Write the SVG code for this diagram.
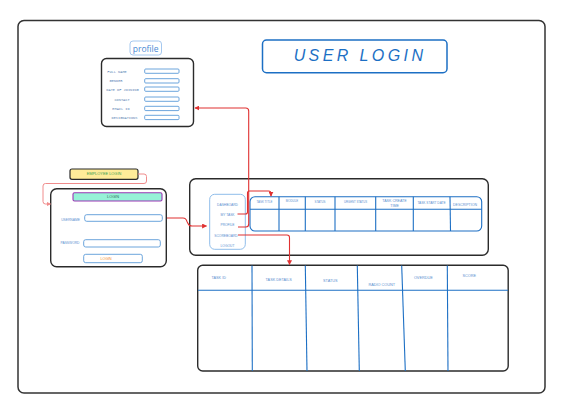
<svg xmlns="http://www.w3.org/2000/svg" width="567" height="420" viewBox="0 0 567 420">
<defs>
<style>
.dark{fill:#fff;stroke:#2b2b2b;stroke-width:1.4}
.inp{fill:#fff;stroke:#5b9bd8;stroke-width:0.9}
.tbl{fill:none;stroke:#1c6fc4;stroke-width:1.1}
.t{font-family:"Liberation Sans",Arial,sans-serif;fill:#5b8fcf;text-anchor:middle}
.lbl{font-family:"Liberation Mono","DejaVu Sans Mono",monospace;fill:#5a7fb3;text-anchor:middle;font-size:3.6px}
.red{fill:none;stroke:#e03131;stroke-width:1.1}
.pink{fill:none;stroke:#f08c8c;stroke-width:1}
</style>
<marker id="ar" viewBox="0 0 8 8" refX="7" refY="4" markerWidth="5" markerHeight="5" markerUnits="userSpaceOnUse" orient="auto">
<path d="M0,0 L8,4 L0,8 Z" fill="#e03131"/>
</marker>
<marker id="ap" viewBox="0 0 8 8" refX="7" refY="4" markerWidth="4.5" markerHeight="4.5" markerUnits="userSpaceOnUse" orient="auto">
<path d="M0,0 L8,4 L0,8 Z" fill="#f08c8c"/>
</marker>
</defs>
<rect width="567" height="420" fill="#fff"/>
<g id="frame"><rect x="18" y="20.5" width="527" height="372.5" rx="6" fill="#fff" stroke="#333" stroke-width="1.5"/></g>

<g id="profile-title">
<rect x="130" y="41" width="31.5" height="14" rx="3" fill="#fff" stroke="#a5c8ef" stroke-width="1"/>
<text x="145.7" y="51.5" font-family="Open Sans,Liberation Sans,sans-serif" font-size="8.5" fill="#4a8ad4" text-anchor="middle">profile</text>
</g>

<g id="profile">
<rect x="101.5" y="58.5" width="92" height="68" rx="5" class="dark"/>
<text class="lbl" x="117" y="72.5">FULL NAME</text>
<text class="lbl" x="116" y="81.5">GENDER</text>
<text class="lbl" x="122.5" y="91.3">DATE OF JOINING</text>
<text class="lbl" x="122" y="101.3">CONTACT</text>
<text class="lbl" x="121" y="110.2">EMAIL ID</text>
<text class="lbl" x="124.5" y="119.2">DESIGNATIONS</text>
<rect class="inp" x="144.7" y="69" width="34.3" height="4.3" rx="1"/>
<rect class="inp" x="144.7" y="78.7" width="34.3" height="4.3" rx="1"/>
<rect class="inp" x="144.7" y="87" width="34.3" height="4.3" rx="1"/>
<rect class="inp" x="144.7" y="97" width="34.3" height="4.3" rx="1"/>
<rect class="inp" x="144.7" y="106.3" width="34.3" height="4.3" rx="1"/>
<rect class="inp" x="144.7" y="115.3" width="34.3" height="4.3" rx="1"/>
</g>

<g id="title">
<rect x="262.5" y="40" width="184.5" height="32.7" rx="4" fill="#fff" stroke="#1c6fc4" stroke-width="1.5"/>
<text x="360" y="61" font-family="Liberation Sans,Arial,sans-serif" font-size="16" fill="#1c6fc4" text-anchor="middle" letter-spacing="3.4" font-style="italic">USER LOGIN</text>
</g>

<g id="employee-login">
<rect x="70" y="169" width="68" height="10.3" rx="2" fill="#ffec99" stroke="#2b2b2b" stroke-width="1.2"/>
<text x="104" y="175.4" class="t" font-size="3.9" fill="#40a050" style="fill:#40a050">EMPLOYEE LOGIN</text>
</g>

<g id="login">
<rect x="50.7" y="188.7" width="115.6" height="78" rx="6" class="dark"/>
<rect x="73" y="192.7" width="89" height="8.3" rx="1.5" fill="#96f2d7" stroke="#9c36b5" stroke-width="1.1"/>
<text x="113" y="198.2" class="t" font-size="3.8" style="fill:#2f6b57">LOGIN</text>
<text x="70.5" y="220.5" class="t" font-size="3.3">USERNAME</text>
<rect class="inp" x="84.7" y="214.7" width="77.6" height="6.6" rx="2"/>
<text x="70" y="244" class="t" font-size="3.3">PASSWORD</text>
<rect class="inp" x="83.7" y="239.7" width="76.6" height="7.3" rx="2"/>
<rect class="inp" x="83.7" y="254.3" width="58.6" height="8.4" rx="2"/>
<text x="106" y="260.2" class="t" font-size="3.6" style="fill:#f08c28">LOGIN</text>
</g>

<g id="dashboard">
<rect x="189.7" y="178.7" width="298.6" height="76.5" rx="6" class="dark"/>
</g>

<g id="menu">
<rect x="209.7" y="194.3" width="35.6" height="55" rx="5" fill="#fff" stroke="#8fbdea" stroke-width="1"/>
<text x="227.5" y="206" class="t" font-size="3.3">DASHBOARD</text>
<text x="227.5" y="216" class="t" font-size="3.3">MY TASK</text>
<text x="227.5" y="226.3" class="t" font-size="3.3">PROFILE</text>
<text x="226" y="237" class="t" font-size="3.3">SCOREBOARD</text>
<text x="227.5" y="247" class="t" font-size="3.3">LOGOUT</text>
</g>

<g id="task-table">
<rect x="250" y="196.7" width="231.7" height="34.3" rx="5" class="tbl" stroke-width="1.3"/>
<line class="tbl" x1="250" y1="209.3" x2="481.7" y2="209.3"/>
<line class="tbl" x1="279" y1="196.7" x2="279" y2="231"/>
<line class="tbl" x1="305.3" y1="196.7" x2="305.3" y2="231"/>
<line class="tbl" x1="335" y1="196.7" x2="335" y2="231"/>
<line class="tbl" x1="375.7" y1="196.7" x2="375.7" y2="231"/>
<line class="tbl" x1="413.3" y1="196.7" x2="413.3" y2="231"/>
<line class="tbl" x1="450" y1="196.7" x2="450.5" y2="231"/>
<text x="264.5" y="203.3" class="t" font-size="2.9">TASK TITLE</text>
<text x="292" y="202" class="t" font-size="2.9">MODULE</text>
<text x="320" y="202.5" class="t" font-size="2.9">STATUS</text>
<text x="355.5" y="203" class="t" font-size="2.8">URGENT STATUS</text>
<text x="394.5" y="202" class="t" font-size="3.6">TASK CREATE</text>
<text x="394.5" y="207" class="t" font-size="3.6">TIME</text>
<text x="431.5" y="204" class="t" font-size="3.2">TASK START DATE</text>
<text x="465" y="205.5" class="t" font-size="3.5">DESCRIPTION</text>
</g>

<g id="score-table">
<rect x="197.7" y="265.3" width="310.5" height="105.7" rx="5" class="dark"/>
<line class="tbl" x1="198" y1="290.3" x2="508" y2="290.3"/>
<line class="tbl" x1="252" y1="265.5" x2="252.3" y2="371"/>
<line class="tbl" x1="305.3" y1="265.5" x2="307" y2="371"/>
<line class="tbl" x1="357.3" y1="265.5" x2="359.3" y2="371"/>
<line class="tbl" x1="401.7" y1="265.5" x2="405.3" y2="371"/>
<line class="tbl" x1="447.3" y1="265.5" x2="448" y2="371"/>
<text x="218.7" y="278.8" class="t" font-size="3.8">TASK ID</text>
<text x="278.7" y="280.5" class="t" font-size="3.8">TASK DETAILS</text>
<text x="330.3" y="282.2" class="t" font-size="3.8">STATUS</text>
<text x="381.7" y="285.9" class="t" font-size="3.8">RADIO COUNT</text>
<text x="423.3" y="278.8" class="t" font-size="3.8">OVERDUE</text>
<text x="469.3" y="276.5" class="t" font-size="3.8">SCORE</text>
</g>

<g id="connectors">
<path class="pink" d="M138,174 H144 Q146.5,174 146.5,176.5 V181 Q146.5,183.5 144,183.5 H45.5 Q43,183.5 43,186 V201.5 Q43,204 45.5,204 H50.5" marker-end="url(#ap)"/>
<path class="red" d="M167,218 H183 Q186,218 187,221.5 L188,223.5 Q189,226 192,226 H206.5" marker-end="url(#ar)"/>
<path class="red" d="M237.5,214 H245.5 Q247.5,214 247.5,212 V193 Q247.5,191 249.5,191 H268.5 Q271,191 271,193.5 V196" marker-end="url(#ar)"/>
<path class="red" d="M238,227 H246 Q248.7,227 248.7,224 V111 Q248.7,108 245.7,108 H195" marker-end="url(#ar)"/>
<path class="red" d="M238,235 H287 Q289.5,235 289.5,237.5 V264.5" marker-end="url(#ar)"/>
</g>
</svg>
